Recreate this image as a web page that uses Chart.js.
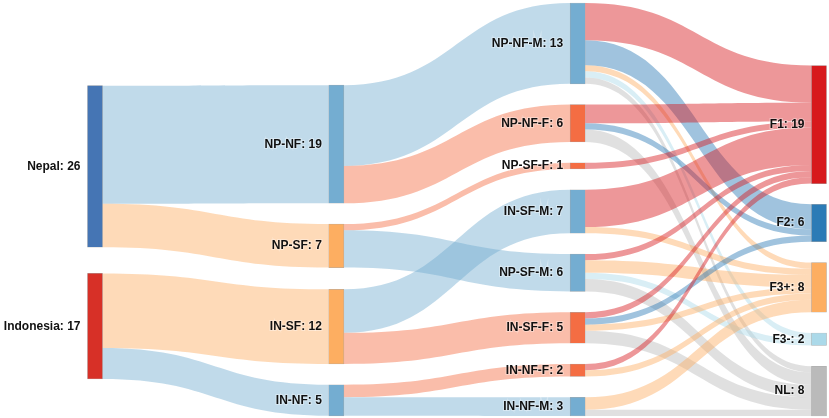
<!DOCTYPE html>
<html>
<head>
<meta charset="utf-8">
<script src="https://cdn.jsdelivr.net/npm/chart.js@4.4.1/dist/chart.umd.min.js"></script>
<style>
  html, body { margin: 0; padding: 0; background: #fff; }
  #wrap { width: 829px; height: 418px; }
</style>
</head>
<body>
<div id="wrap"><canvas id="sankey"></canvas></div>
<script>
// nodes, column by column, top to bottom
const columns = [
    ['Nepal', 'Indonesia'],
    ['NP-NF', 'NP-SF', 'IN-SF', 'IN-NF'],
    ['NP-NF-M', 'NP-NF-F', 'NP-SF-F', 'IN-SF-M', 'NP-SF-M', 'IN-SF-F', 'IN-NF-F', 'IN-NF-M'],
    ['F1', 'F2', 'F3+', 'F3-', 'NL']
];

// flows (source -> target : number of people)
const flowFrom = [
    'Nepal', 'Nepal', 'Indonesia', 'Indonesia',
    'NP-NF', 'NP-NF', 'NP-SF', 'NP-SF', 'IN-SF', 'IN-SF', 'IN-NF', 'IN-NF',
    'NP-NF-M', 'NP-NF-M', 'NP-NF-M', 'NP-NF-M', 'NP-NF-M',
    'NP-NF-F', 'NP-NF-F', 'NP-NF-F',
    'NP-SF-F',
    'IN-SF-M', 'IN-SF-M',
    'NP-SF-M', 'NP-SF-M', 'NP-SF-M', 'NP-SF-M',
    'IN-SF-F', 'IN-SF-F', 'IN-SF-F', 'IN-SF-F',
    'IN-NF-F', 'IN-NF-F',
    'IN-NF-M', 'IN-NF-M'
];
const flowTo = [
    'NP-NF', 'NP-SF', 'IN-SF', 'IN-NF',
    'NP-NF-M', 'NP-NF-F', 'NP-SF-F', 'NP-SF-M', 'IN-SF-M', 'IN-SF-F', 'IN-NF-F', 'IN-NF-M',
    'F1', 'F2', 'F3+', 'F3-', 'NL',
    'F1', 'F2', 'NL',
    'F1',
    'F1', 'F3+',
    'F1', 'F3+', 'F3-', 'NL',
    'F1', 'F2', 'F3+', 'NL',
    'F1', 'F3+',
    'F3+', 'NL'
];
const flowValues = [
    19, 7, 12, 5,
    13, 6, 1, 6, 7, 5, 2, 3,
    6, 4, 1, 1, 1,
    3, 1, 2,
    1,
    6, 1,
    1, 2, 1, 2,
    1, 1, 1, 2,
    1, 1,
    2, 1
];

const nodeColors = {
    'Nepal': '#4575b4', 'Indonesia': '#d73027',
    'NP-NF': '#74add1', 'NP-SF': '#fdae61', 'IN-SF': '#fdae61', 'IN-NF': '#74add1',
    'NP-NF-M': '#74add1', 'NP-NF-F': '#f46d43', 'NP-SF-F': '#f46d43', 'IN-SF-M': '#74add1',
    'NP-SF-M': '#74add1', 'IN-SF-F': '#f46d43', 'IN-NF-F': '#f46d43', 'IN-NF-M': '#74add1',
    'F1': '#d7191c', 'F2': '#2c7bb6', 'F3+': '#fdae61', 'F3-': '#abd9e9', 'NL': '#bababa'
};

const NODE_PAD = 3.35;   // gap between nodes, in people
const ITERATIONS = 120;

function sum(arr, f) {
    return arr.reduce((s, d) => s + f(d), 0);
}

function center(n) {
    return (n.y0 + n.y1) / 2;
}

// small sankey layout (relaxation like d3-sankey), node order kept as given
function layoutSankey() {
    const byName = {};
    const cols = columns.map((names, c) => names.map(name => {
        byName[name] = { name: name, col: c, sourceLinks: [], targetLinks: [] };
        return byName[name];
    }));
    const links = flowValues.map((v, k) => {
        const link = { source: byName[flowFrom[k]], target: byName[flowTo[k]], value: v };
        link.source.sourceLinks.push(link);
        link.target.targetLinks.push(link);
        return link;
    });
    const nodes = [].concat(...cols);
    nodes.forEach(n => {
        n.value = Math.max(sum(n.sourceLinks, l => l.value), sum(n.targetLinks, l => l.value));
    });

    const extent = Math.max(...cols.map(c => sum(c, n => n.value) + (c.length - 1) * NODE_PAD));
    const ky = Math.min(...cols.map(c => (extent - (c.length - 1) * NODE_PAD) / sum(c, n => n.value)));
    cols.forEach(c => c.forEach((n, i) => {
        n.y0 = i;
        n.y1 = i + n.value * ky;
    }));
    links.forEach(l => { l.width = l.value * ky; });

    function relaxLeftToRight(alpha) {
        cols.forEach(c => c.forEach(n => {
            if (!n.targetLinks.length) return;
            const dy = (sum(n.targetLinks, l => center(l.source) * l.value) /
                sum(n.targetLinks, l => l.value) - center(n)) * alpha;
            n.y0 += dy;
            n.y1 += dy;
        }));
    }

    function relaxRightToLeft(alpha) {
        cols.slice().reverse().forEach(c => c.forEach(n => {
            if (!n.sourceLinks.length) return;
            const dy = (sum(n.sourceLinks, l => center(l.target) * l.value) /
                sum(n.sourceLinks, l => l.value) - center(n)) * alpha;
            n.y0 += dy;
            n.y1 += dy;
        }));
    }

    function resolveCollisions() {
        cols.forEach(c => {
            let y = 0, dy;
            c.forEach(n => {
                dy = y - n.y0;
                if (dy > 0) { n.y0 += dy; n.y1 += dy; }
                y = n.y1 + NODE_PAD;
            });
            dy = y - NODE_PAD - extent;
            if (dy > 0) {
                const last = c[c.length - 1];
                last.y0 -= dy;
                last.y1 -= dy;
                y = last.y0;
                for (let i = c.length - 2; i >= 0; --i) {
                    const n = c[i];
                    dy = n.y1 + NODE_PAD - y;
                    if (dy > 0) { n.y0 -= dy; n.y1 -= dy; }
                    y = n.y0;
                }
            }
        });
    }

    resolveCollisions();
    for (let alpha = 1, n = ITERATIONS; n > 0; --n) {
        alpha *= 0.99;
        relaxRightToLeft(alpha);
        resolveCollisions();
        relaxLeftToRight(alpha);
        resolveCollisions();
    }

    // stack the links on each node in order of the other end
    nodes.forEach(n => {
        n.sourceLinks.sort((a, b) => a.target.y0 - b.target.y0);
        n.targetLinks.sort((a, b) => a.source.y0 - b.source.y0);
        let ys = n.y0, yt = n.y0;
        n.sourceLinks.forEach(l => { l.sy = ys; ys += l.width; });
        n.targetLinks.forEach(l => { l.ty = yt; yt += l.width; });
    });

    return { nodes: nodes, links: links, extent: extent };
}

const graph = layoutSankey();
const nodeIndex = {};
graph.nodes.forEach((n, i) => { nodeIndex[n.name] = i; });

function hexToRgba(hex, a) {
    const v = parseInt(hex.slice(1), 16);
    return `rgba(${(v >> 16) & 255}, ${(v >> 8) & 255}, ${v & 255}, ${a})`;
}

const linkPlugin = {
    id: 'sankeyLinks',
    beforeDatasetsDraw(chart) {
        const ctx = chart.ctx;
        const yScale = chart.scales.y;
        const bars = chart.getDatasetMeta(0).data;
        ctx.save();
        graph.links.forEach(l => {
            const sBar = bars[nodeIndex[l.source.name]];
            const tBar = bars[nodeIndex[l.target.name]];
            const xa = sBar.x + sBar.width / 2;
            const xb = tBar.x - tBar.width / 2;
            const xm = (xa + xb) / 2;
            const ya0 = yScale.getPixelForValue(l.sy);
            const ya1 = yScale.getPixelForValue(l.sy + l.width);
            const yb0 = yScale.getPixelForValue(l.ty);
            const yb1 = yScale.getPixelForValue(l.ty + l.width);
            ctx.beginPath();
            ctx.moveTo(xa, ya0);
            ctx.bezierCurveTo(xm, ya0, xm, yb0, xb, yb0);
            ctx.lineTo(xb, yb1);
            ctx.bezierCurveTo(xm, yb1, xm, ya1, xa, ya1);
            ctx.closePath();
            ctx.fillStyle = hexToRgba(nodeColors[l.target.name], 0.45);
            ctx.fill();
        });
        ctx.restore();
    }
};

const labelPlugin = {
    id: 'sankeyLabels',
    afterDatasetsDraw(chart) {
        const ctx = chart.ctx;
        const bars = chart.getDatasetMeta(0).data;
        ctx.save();
        ctx.font = 'bold 12px "Liberation Sans", Arial, sans-serif';
        ctx.textAlign = 'right';
        ctx.textBaseline = 'middle';
        graph.nodes.forEach((n, i) => {
            const bar = bars[i];
            const text = n.name + ': ' + n.value;
            const x = bar.x - bar.width / 2 - 7;
            const y = (bar.y + bar.base) / 2;
            ctx.lineWidth = 2;
            ctx.strokeStyle = 'rgba(255,255,255,0.35)';
            ctx.strokeText(text, x, y);
            ctx.fillStyle = '#111';
            ctx.fillText(text, x, y);
        });
        ctx.restore();
    }
};

new Chart(document.getElementById('sankey'), {
    type: 'bar',
    data: {
        datasets: [{
            data: graph.nodes.map(n => ({ x: n.col, y: [n.y0, n.y1] })),
            backgroundColor: graph.nodes.map(n => nodeColors[n.name]),
            borderColor: 'rgba(68, 68, 68, 0.45)',
            borderWidth: 0.5,
            borderSkipped: false,
            barThickness: 15,
            clip: false
        }]
    },
    options: {
        responsive: true,
        maintainAspectRatio: false,
        animation: false,
        layout: { padding: { left: 95, right: 10, top: 3, bottom: 2 } },
        plugins: {
            legend: { display: false },
            tooltip: { enabled: false }
        },
        scales: {
            x: { type: 'linear', min: 0, max: columns.length - 1, offset: false, display: false },
            y: { type: 'linear', min: 0, max: graph.extent, reverse: true, display: false }
        }
    },
    plugins: [linkPlugin, labelPlugin]
});
</script>
</body>
</html>
